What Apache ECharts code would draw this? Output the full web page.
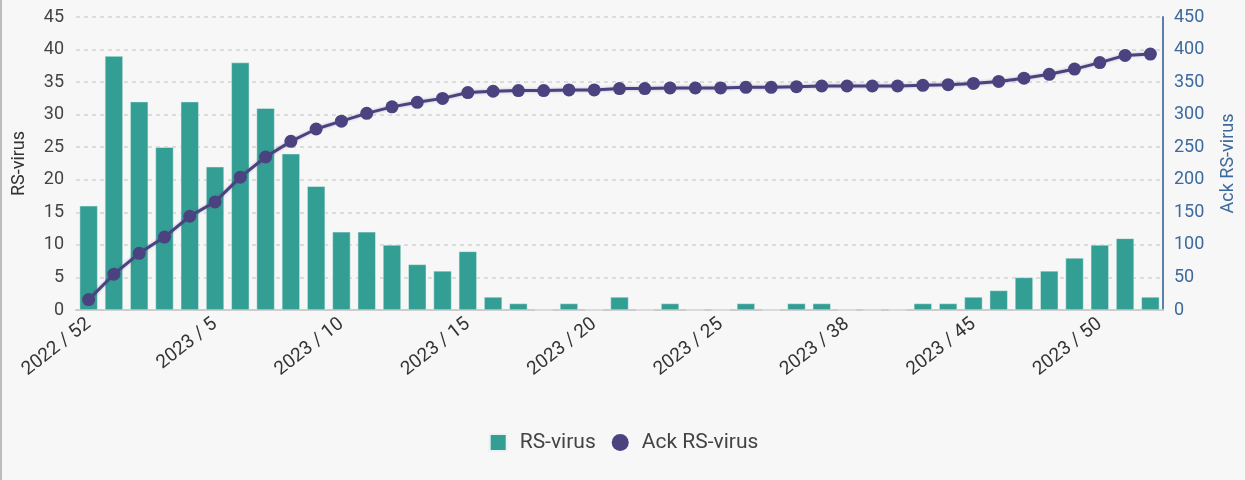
<!DOCTYPE html>
<html>
<head>
<meta charset="utf-8">
<script src="https://cdn.jsdelivr.net/npm/echarts@6/dist/echarts.min.js"></script>
<style>
  html, body { margin: 0; padding: 0; background: #f7f7f7; }
  #chart { width: 1245px; height: 480px; border-left: 2px solid #bdbdbd; box-sizing: border-box; }
</style>
</head>
<body>
<div id="chart"></div>
<script>
  // weeks (year / week)
  var weeks = ['2022 / 52',
    '2023 / 1', '2023 / 2', '2023 / 3', '2023 / 4', '2023 / 5', '2023 / 6', '2023 / 7', '2023 / 8',
    '2023 / 9', '2023 / 10', '2023 / 11', '2023 / 12', '2023 / 13', '2023 / 14', '2023 / 15', '2023 / 16',
    '2023 / 17', '2023 / 18', '2023 / 19', '2023 / 20', '2023 / 21', '2023 / 22', '2023 / 23', '2023 / 24',
    '2023 / 25', '2023 / 26', '2023 / 27', '2023 / 28', '2023 / 37', '2023 / 38', '2023 / 41', '2023 / 42',
    '2023 / 43', '2023 / 44', '2023 / 45', '2023 / 46', '2023 / 47', '2023 / 48', '2023 / 49', '2023 / 50',
    '2023 / 51', '2023 / 52'];

  // cases per week
  var rsVirus = [16, 39, 32, 25, 32, 22, 38, 31, 24, 19, 12, 12, 10, 7, 6, 9, 2, 1, 0, 1, 0, 2,
    0, 1, 0, 0, 1, 0, 1, 1, 0, 0, 0, 1, 1, 2, 3, 5, 6, 8, 10, 11, 2];

  // accumulated cases
  var ackRsVirus = [16, 55, 87, 112, 144, 166, 204, 235, 259, 278, 290, 302, 312, 319, 325, 334,
    336, 337, 337, 338, 338, 340, 340, 341, 341, 341, 342, 342, 343, 344, 344, 344, 344, 345, 346,
    348, 351, 356, 362, 370, 380, 391, 393];

  var leftTicks = { min: 0, max: 45, interval: 5 };
  var rightTicks = { min: 0, max: 450, interval: 50 };

  var chart = echarts.init(document.getElementById('chart'));
  var font = 'Roboto, "Liberation Sans", sans-serif';

  chart.setOption({
    backgroundColor: '#f7f7f7',
    textStyle: { fontFamily: font },
    grid: { left: 70, right: 73, top: 17, bottom: 170 },
    legend: {
      bottom: 22,
      left: 'center',
      itemWidth: 17,
      itemHeight: 17,
      itemGap: 16,
      textStyle: { fontSize: 21, color: '#444', fontFamily: font, padding: [0, 0, 0, 8] },
      data: [{ name: 'RS-virus', icon: 'rect' }, { name: 'Ack RS-virus', icon: 'circle' }]
    },
    xAxis: {
      type: 'category',
      data: weeks,
      axisLine: { lineStyle: { color: '#cccccc', width: 2 } },
      axisTick: { alignWithLabel: true, interval: 4, length: 8, lineStyle: { color: '#cccccc', width: 2 } },
      axisLabel: { interval: 4, rotate: 38, fontSize: 19, color: '#333', margin: 12 }
    },
    yAxis: [{
      type: 'value',
      min: leftTicks.min, max: leftTicks.max, interval: leftTicks.interval,
      name: 'RS-virus',
      nameLocation: 'middle',
      nameGap: 48,
      nameTextStyle: { fontSize: 18, color: '#333' },
      axisLine: { show: false },
      axisTick: { show: false },
      axisLabel: { fontSize: 18, color: '#444', margin: 12 },
      splitLine: { lineStyle: { color: '#dcdcdc', type: [4, 4], width: 2 } }
    }, {
      type: 'value',
      min: rightTicks.min, max: rightTicks.max, interval: rightTicks.interval,
      name: 'Ack RS-virus',
      nameLocation: 'middle',
      nameGap: 56,
      nameRotate: 90,
      nameTextStyle: { fontSize: 18, color: '#3d6a9c' },
      axisLine: { show: true, lineStyle: { color: '#5a7fa8', width: 2 } },
      axisTick: { show: false },
      axisLabel: { fontSize: 18, color: '#3d6a9c', margin: 11 },
      splitLine: { show: false }
    }],
    series: [{
      name: 'RS-virus',
      type: 'bar',
      data: rsVirus,
      barWidth: 18,
      itemStyle: { color: '#339e94', borderColor: '#e8f2f1', borderWidth: 0.5 }
    }, {
      name: 'Ack RS-virus',
      type: 'line',
      yAxisIndex: 1,
      data: ackRsVirus,
      symbol: 'circle',
      symbolSize: 13,
      itemStyle: { color: '#4a437f' },
      lineStyle: { color: '#4a437f', width: 3, shadowColor: 'rgba(74,67,127,0.35)', shadowBlur: 3 },
      z: 3
    }]
  });
</script>
</body>
</html>
